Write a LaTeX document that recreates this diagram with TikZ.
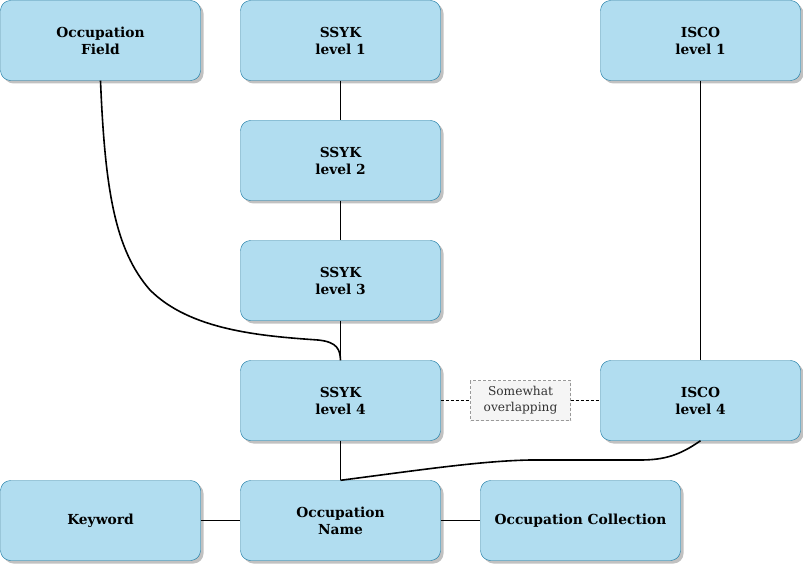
\documentclass[tikz,border=0pt]{standalone}
\usepackage{fontspec}
\setmainfont{DejaVu Serif}
\usetikzlibrary{shadows}
\definecolor{boxfill}{HTML}{B1DDF0}
\definecolor{boxline}{HTML}{10739E}
\definecolor{notefill}{HTML}{F5F5F5}
\definecolor{noteline}{HTML}{999999}
\definecolor{notetext}{HTML}{333333}

\begin{document}
\begin{tikzpicture}[x=1pt,y=-1pt,
    entity/.style={draw=boxline,fill=boxfill,rounded corners=10pt,
      minimum width=200pt,minimum height=80pt,align=center,inner sep=0pt,
      font=\fontsize{13.8}{17}\selectfont\bfseries,
      drop shadow={shadow xshift=3pt,shadow yshift=-3pt,fill=black!30,opacity=0.8}},
    note/.style={draw=noteline,densely dashed,fill=notefill,text=notetext,
      minimum width=100pt,minimum height=40pt,align=center,inner sep=0pt,
      font=\fontsize{12.2}{16}\selectfont},
    link/.style={line width=1.6pt}]
    \useasboundingbox (0,0) rectangle (803,564);
    % top row
    \node[entity] (field) at (100.5,40.5) {Occupation\\Field};
    \node[entity] (ssyk1) at (340.5,40.5) {SSYK\\level 1};
    \node[entity] (isco1) at (700.5,40.5) {ISCO\\level 1};
    % SSYK chain
    \node[entity] (ssyk2) at (340.5,160.5) {SSYK\\level 2};
    \node[entity] (ssyk3) at (340.5,280.5) {SSYK\\level 3};
    \node[entity] (ssyk4) at (340.5,400.5) {SSYK\\level 4};
    \node[entity] (isco4) at (700.5,400.5) {ISCO\\level 4};
    \node[note] (overlap) at (520.5,400.5) {Somewhat\\overlapping};
    % bottom row
    \node[entity] (keyword) at (100.5,520.5) {Keyword};
    \node[entity] (name) at (340.5,520.5) {Occupation\\Name};
    \node[entity] (collection) at (580.5,520.5) {Occupation Collection};

    \draw[link] (ssyk1) -- (ssyk2);
    \draw[link] (ssyk2) -- (ssyk3);
    \draw[link] (ssyk3) -- (ssyk4);
    \draw[link] (ssyk4) -- (name);
    \draw[link] (isco1) -- (isco4);
    \draw[link] (keyword) -- (name);
    \draw[link] (name) -- (collection);
    \draw[densely dashed] (ssyk4) -- (overlap) -- (isco4); %overlap
    \draw[link] (field.south) .. controls (105,190) and (115,250) .. (150,290)
      .. controls (190,330) and (260,336) .. (318,340)
      .. controls (338,342) and (340,350) .. (ssyk4.north); %field to level 4
    \draw[link] (isco4.south) .. controls (680,455) and (665,460) .. (640,460)
      -- (530,460) .. controls (480,461) and (420,470) .. (name.north); %isco to name
\end{tikzpicture}
\end{document}
